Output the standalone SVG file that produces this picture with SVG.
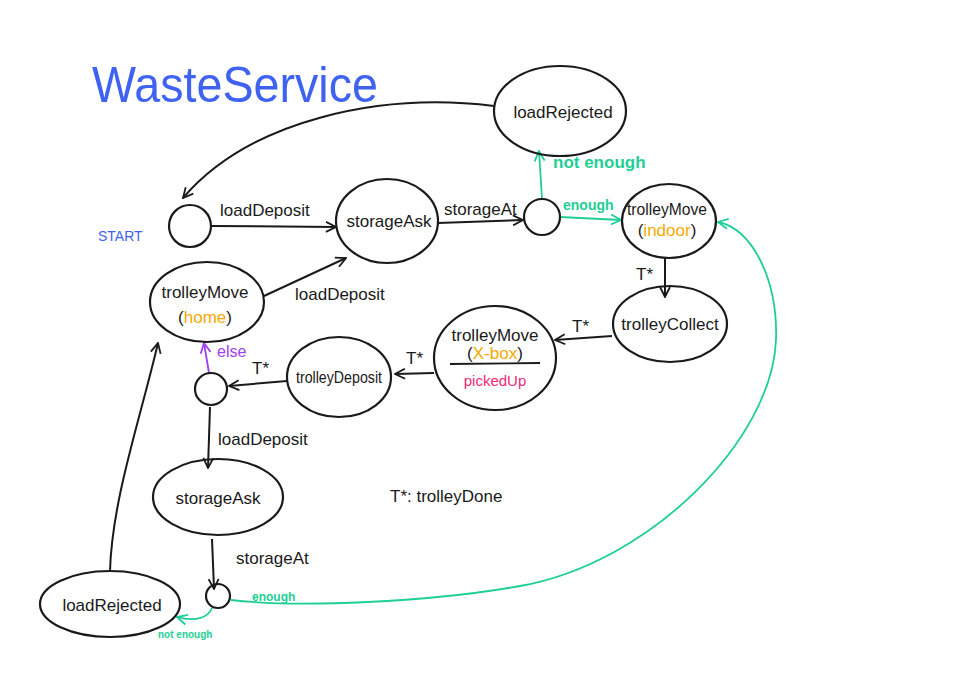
<svg xmlns="http://www.w3.org/2000/svg" width="975" height="689" viewBox="0 0 975 689">
<style>
.n{fill:none;stroke:#1a1a1a;stroke-width:2.2}
.t{font-family:"Liberation Sans",Arial,sans-serif;fill:#1a1a1a;font-size:17px}
.c{fill:none;stroke:#1a1a1a;stroke-width:2}
.g{fill:none;stroke:#1ecf95;stroke-width:1.8}
.gt{font-family:"Liberation Sans",Arial,sans-serif;fill:#1ecf95;font-weight:bold}
.o{fill:#f5aa00}
</style>
<defs>
<marker id="ab" viewBox="0 0 12 12" refX="11" refY="6" markerWidth="12" markerHeight="12" markerUnits="userSpaceOnUse" orient="auto"><path d="M1,1 L11,6 L1,11" fill="none" stroke="#1a1a1a" stroke-width="1.8"/></marker>
<marker id="ag" viewBox="0 0 12 12" refX="11" refY="6" markerWidth="12" markerHeight="12" markerUnits="userSpaceOnUse" orient="auto"><path d="M1,1 L11,6 L1,11" fill="none" stroke="#1ecf95" stroke-width="1.8"/></marker>
<marker id="ap" viewBox="0 0 12 12" refX="11" refY="6" markerWidth="12" markerHeight="12" markerUnits="userSpaceOnUse" orient="auto"><path d="M1,1 L11,6 L1,11" fill="none" stroke="#a040f0" stroke-width="1.8"/></marker>
</defs>
<rect width="975" height="689" fill="#ffffff"/>
<text x="92" y="102" font-family="Liberation Sans,Arial,sans-serif" font-size="50" fill="#3f63f0" textLength="286" lengthAdjust="spacingAndGlyphs">WasteService</text>

<g id="connectors">
<path class="c" d="M494,106 C380,92 250,120 183,198" marker-end="url(#ab)"/>
<path class="c" d="M211,226 L336,227" marker-end="url(#ab)"/>
<text class="t" x="220" y="216" font-size="19">loadDeposit</text>
<path class="c" d="M438,223 L523,220" marker-end="url(#ab)"/>
<text class="t" x="444" y="215" font-size="16">storageAt</text>
<path class="g" d="M542,199 L539,151" marker-end="url(#ag)"/>
<text class="gt" x="553" y="168" font-size="17">not enough</text>
<path class="g" d="M560,217 L621,220" marker-end="url(#ag)"/>
<text class="gt" x="563" y="210" font-size="14">enough</text>
<path class="c" d="M665,257 L665,297" marker-end="url(#ab)"/>
<text class="t" x="636" y="280">T*</text>
<path class="c" d="M612,336 L555,340" marker-end="url(#ab)"/>
<text class="t" x="572" y="332">T*</text>
<path class="c" d="M434,373 L395,374" marker-end="url(#ab)"/>
<text class="t" x="406" y="364">T*</text>
<path class="c" d="M287,381 L229,386" marker-end="url(#ab)"/>
<text class="t" x="252" y="374">T*</text>
<path d="M209,373 L204,343" fill="none" stroke="#a040f0" stroke-width="1.8" marker-end="url(#ap)"/>
<text x="217" y="357" font-family="Liberation Sans,Arial,sans-serif" font-size="16" fill="#a040f0">else</text>
<path class="c" d="M264,296 L346,258" marker-end="url(#ab)"/>
<text class="t" x="295" y="300">loadDeposit</text>
<path class="c" d="M210,407 L208,468" marker-end="url(#ab)"/>
<text class="t" x="218" y="445">loadDeposit</text>
<path class="c" d="M212,539 L214,589" marker-end="url(#ab)"/>
<text class="t" x="236" y="564">storageAt</text>
<path class="g" d="M231,600 C300,608 430,602 520,586 C650,563 772,440 776,340 C778,280 752,228 718,222" marker-end="url(#ag)"/>
<text class="gt" x="252" y="601" font-size="12">enough</text>
<path class="g" d="M212,608 C208,618 195,622 177,617" marker-end="url(#ag)"/>
<text class="gt" x="158" y="638" font-size="10">not enough</text>
<path class="c" d="M110,571 C112,500 140,420 158,343" marker-end="url(#ab)"/>
</g>

<g id="start"><circle class="n" cx="190" cy="226" r="21"/><text x="98" y="241" font-family="Liberation Sans,Arial,sans-serif" font-size="14" fill="#3f63f0">START</text></g>
<g id="storageAsk1"><ellipse class="n" cx="387" cy="221" rx="51" ry="42"/><text class="t" x="389" y="227" text-anchor="middle" font-size="15">storageAsk</text></g>
<g id="choice1"><circle class="n" cx="542" cy="217" r="18"/></g>
<g id="loadRejected1"><ellipse class="n" cx="560" cy="111" rx="66" ry="45"/><text class="t" x="563" y="118" text-anchor="middle" font-size="19">loadRejected</text></g>
<g id="trolleyMoveIndoor"><ellipse class="n" cx="669" cy="221" rx="47" ry="37"/><text class="t" x="667" y="215" text-anchor="middle" font-size="14" textLength="80" lengthAdjust="spacingAndGlyphs">trolleyMove</text><text class="t" x="667" y="236" text-anchor="middle" font-size="16">(<tspan class="o">indoor</tspan>)</text></g>
<g id="trolleyCollect"><ellipse class="n" cx="670" cy="324" rx="57" ry="38"/><text class="t" x="670" y="330" text-anchor="middle" font-size="15">trolleyCollect</text></g>
<g id="trolleyMoveXbox"><ellipse class="n" cx="495" cy="358" rx="61" ry="52"/><text class="t" x="495" y="341" text-anchor="middle" font-size="14">trolleyMove</text><text class="t" x="495" y="359" text-anchor="middle" font-size="14">(<tspan class="o">X-box</tspan>)</text><line x1="450" y1="364" x2="540" y2="363" stroke="#1a1a1a" stroke-width="1.8"/><text x="495" y="386" text-anchor="middle" font-family="Liberation Sans,Arial,sans-serif" font-size="15" fill="#f0287a">pickedUp</text></g>
<g id="trolleyDeposit"><ellipse class="n" cx="339" cy="377" rx="52" ry="40"/><text class="t" x="339" y="383" text-anchor="middle" font-size="14" textLength="86" lengthAdjust="spacingAndGlyphs">trolleyDeposit</text></g>
<g id="choice2"><circle class="n" cx="211" cy="389" r="16"/></g>
<g id="trolleyMoveHome"><ellipse class="n" cx="207" cy="302" rx="57" ry="40"/><text class="t" x="205" y="298" text-anchor="middle" font-size="16">trolleyMove</text><text class="t" x="205" y="323" text-anchor="middle" font-size="18">(<tspan class="o">home</tspan>)</text></g>
<g id="storageAsk2"><ellipse class="n" cx="218" cy="497" rx="65" ry="38"/><text class="t" x="218" y="504" text-anchor="middle" font-size="19">storageAsk</text></g>
<g id="choice3"><circle class="n" cx="218" cy="596" r="12"/></g>
<g id="loadRejected2"><ellipse class="n" cx="110" cy="604" rx="70" ry="33"/><text class="t" x="112" y="611" text-anchor="middle" font-size="20">loadRejected</text></g>
<text class="t" x="390" y="502" font-size="20">T*: trolleyDone</text>
</svg>
